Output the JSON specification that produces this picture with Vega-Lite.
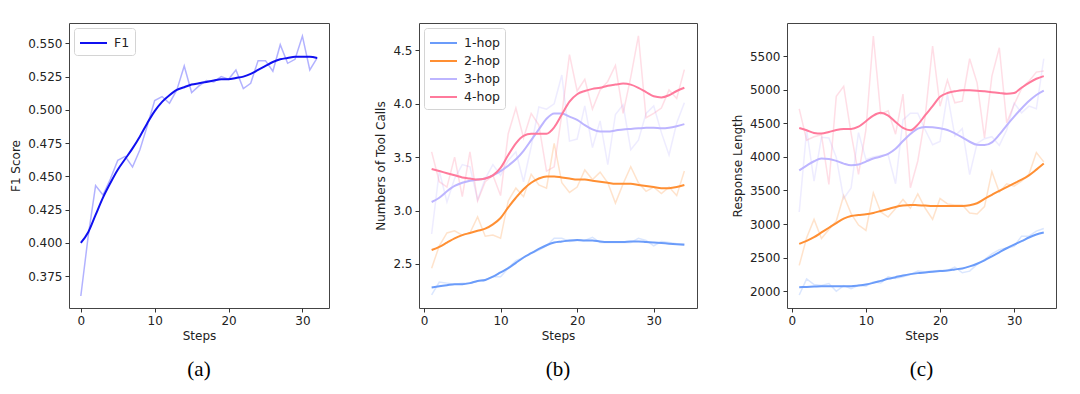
{
  "$schema": "https://vega.github.io/schema/vega-lite/v6.json",
  "padding": {"left": 9, "top": 22, "right": 0, "bottom": 0},
  "background": "white",
  "bounds": "flush",
  "spacing": 90,
  "config": {
    "view": {"stroke": "#444", "strokeWidth": 1},
    "axis": {"grid": false, "domain": false, "labelFont": "DejaVu Sans", "labelFontSize": 12, "labelColor": "#222", "titleFont": "DejaVu Sans", "titleFontSize": 12, "titleFontWeight": "normal", "titleColor": "#222", "tickColor": "#333", "tickSize": 4, "labelPadding": 3},
    "axisY": {"titlePadding": 5},
    "axisX": {"titlePadding": 4},
    "legend": {"title": null, "orient": "top-left", "offset": 5, "symbolType": "M-1,0H2", "symbolSize": 324, "symbolStrokeWidth": 2, "labelFont": "DejaVu Sans", "labelFontSize": 12.5, "labelColor": "#222", "strokeColor": "#d4d4d4", "fillColor": "rgba(255,255,255,0.85)", "padding": 5, "cornerRadius": 3, "rowPadding": 1, "labelOffset": 15},
    "title": {"font": "Liberation Serif", "fontSize": 21, "fontWeight": "normal", "color": "#000", "orient": "bottom", "anchor": "middle", "offset": 18}
  },
  "datasets": {
    "f1": [
      {"step": 0, "series": "F1", "raw": 0.360, "smooth": 0.400},
      {"step": 1, "series": "F1", "raw": 0.405, "smooth": 0.408},
      {"step": 2, "series": "F1", "raw": 0.443, "smooth": 0.421},
      {"step": 3, "series": "F1", "raw": 0.436, "smooth": 0.434},
      {"step": 4, "series": "F1", "raw": 0.448, "smooth": 0.445},
      {"step": 5, "series": "F1", "raw": 0.462, "smooth": 0.455},
      {"step": 6, "series": "F1", "raw": 0.465, "smooth": 0.463},
      {"step": 7, "series": "F1", "raw": 0.457, "smooth": 0.471},
      {"step": 8, "series": "F1", "raw": 0.470, "smooth": 0.480},
      {"step": 9, "series": "F1", "raw": 0.488, "smooth": 0.490},
      {"step": 10, "series": "F1", "raw": 0.507, "smooth": 0.499},
      {"step": 11, "series": "F1", "raw": 0.510, "smooth": 0.506},
      {"step": 12, "series": "F1", "raw": 0.505, "smooth": 0.511},
      {"step": 13, "series": "F1", "raw": 0.515, "smooth": 0.515},
      {"step": 14, "series": "F1", "raw": 0.533, "smooth": 0.517},
      {"step": 15, "series": "F1", "raw": 0.513, "smooth": 0.519},
      {"step": 16, "series": "F1", "raw": 0.518, "smooth": 0.520},
      {"step": 17, "series": "F1", "raw": 0.522, "smooth": 0.521},
      {"step": 18, "series": "F1", "raw": 0.521, "smooth": 0.522},
      {"step": 19, "series": "F1", "raw": 0.525, "smooth": 0.523},
      {"step": 20, "series": "F1", "raw": 0.523, "smooth": 0.523},
      {"step": 21, "series": "F1", "raw": 0.530, "smooth": 0.524},
      {"step": 22, "series": "F1", "raw": 0.516, "smooth": 0.525},
      {"step": 23, "series": "F1", "raw": 0.520, "smooth": 0.527},
      {"step": 24, "series": "F1", "raw": 0.537, "smooth": 0.530},
      {"step": 25, "series": "F1", "raw": 0.537, "smooth": 0.533},
      {"step": 26, "series": "F1", "raw": 0.529, "smooth": 0.536},
      {"step": 27, "series": "F1", "raw": 0.549, "smooth": 0.538},
      {"step": 28, "series": "F1", "raw": 0.535, "smooth": 0.539},
      {"step": 29, "series": "F1", "raw": 0.538, "smooth": 0.540},
      {"step": 30, "series": "F1", "raw": 0.5555, "smooth": 0.540},
      {"step": 31, "series": "F1", "raw": 0.530, "smooth": 0.540},
      {"step": 32, "series": "F1", "raw": 0.539, "smooth": 0.539}
    ],
    "calls": [
      {"step": 1, "hop": "1-hop", "raw": 2.21, "smooth": 2.28},
      {"step": 2, "hop": "1-hop", "raw": 2.33, "smooth": 2.29},
      {"step": 3, "hop": "1-hop", "raw": 2.32, "smooth": 2.30},
      {"step": 4, "hop": "1-hop", "raw": 2.31, "smooth": 2.31},
      {"step": 5, "hop": "1-hop", "raw": 2.32, "smooth": 2.31},
      {"step": 6, "hop": "1-hop", "raw": 2.32, "smooth": 2.32},
      {"step": 7, "hop": "1-hop", "raw": 2.34, "smooth": 2.34},
      {"step": 8, "hop": "1-hop", "raw": 2.35, "smooth": 2.35},
      {"step": 9, "hop": "1-hop", "raw": 2.38, "smooth": 2.38},
      {"step": 10, "hop": "1-hop", "raw": 2.38, "smooth": 2.42},
      {"step": 11, "hop": "1-hop", "raw": 2.46, "smooth": 2.46},
      {"step": 12, "hop": "1-hop", "raw": 2.53, "smooth": 2.51},
      {"step": 13, "hop": "1-hop", "raw": 2.56, "smooth": 2.56},
      {"step": 14, "hop": "1-hop", "raw": 2.60, "smooth": 2.60},
      {"step": 15, "hop": "1-hop", "raw": 2.63, "smooth": 2.64},
      {"step": 16, "hop": "1-hop", "raw": 2.67, "smooth": 2.675},
      {"step": 17, "hop": "1-hop", "raw": 2.74, "smooth": 2.70},
      {"step": 18, "hop": "1-hop", "raw": 2.74, "smooth": 2.71},
      {"step": 19, "hop": "1-hop", "raw": 2.71, "smooth": 2.72},
      {"step": 20, "hop": "1-hop", "raw": 2.72, "smooth": 2.725},
      {"step": 21, "hop": "1-hop", "raw": 2.72, "smooth": 2.72},
      {"step": 22, "hop": "1-hop", "raw": 2.75, "smooth": 2.72},
      {"step": 23, "hop": "1-hop", "raw": 2.70, "smooth": 2.71},
      {"step": 24, "hop": "1-hop", "raw": 2.70, "smooth": 2.705},
      {"step": 25, "hop": "1-hop", "raw": 2.70, "smooth": 2.705},
      {"step": 26, "hop": "1-hop", "raw": 2.70, "smooth": 2.705},
      {"step": 27, "hop": "1-hop", "raw": 2.70, "smooth": 2.71},
      {"step": 28, "hop": "1-hop", "raw": 2.74, "smooth": 2.71},
      {"step": 29, "hop": "1-hop", "raw": 2.72, "smooth": 2.705},
      {"step": 30, "hop": "1-hop", "raw": 2.67, "smooth": 2.70},
      {"step": 31, "hop": "1-hop", "raw": 2.71, "smooth": 2.695},
      {"step": 32, "hop": "1-hop", "raw": 2.70, "smooth": 2.69},
      {"step": 33, "hop": "1-hop", "raw": 2.69, "smooth": 2.685},
      {"step": 34, "hop": "1-hop", "raw": 2.69, "smooth": 2.68},
      {"step": 1, "hop": "2-hop", "raw": 2.46, "smooth": 2.63},
      {"step": 2, "hop": "2-hop", "raw": 2.67, "smooth": 2.66},
      {"step": 3, "hop": "2-hop", "raw": 2.79, "smooth": 2.70},
      {"step": 4, "hop": "2-hop", "raw": 2.81, "smooth": 2.74},
      {"step": 5, "hop": "2-hop", "raw": 2.77, "smooth": 2.77},
      {"step": 6, "hop": "2-hop", "raw": 2.79, "smooth": 2.79},
      {"step": 7, "hop": "2-hop", "raw": 2.94, "smooth": 2.81},
      {"step": 8, "hop": "2-hop", "raw": 2.76, "smooth": 2.83},
      {"step": 9, "hop": "2-hop", "raw": 2.77, "smooth": 2.87},
      {"step": 10, "hop": "2-hop", "raw": 2.74, "smooth": 2.93},
      {"step": 11, "hop": "2-hop", "raw": 3.09, "smooth": 3.03},
      {"step": 12, "hop": "2-hop", "raw": 3.21, "smooth": 3.12},
      {"step": 13, "hop": "2-hop", "raw": 3.13, "smooth": 3.20},
      {"step": 14, "hop": "2-hop", "raw": 3.34, "smooth": 3.26},
      {"step": 15, "hop": "2-hop", "raw": 3.24, "smooth": 3.30},
      {"step": 16, "hop": "2-hop", "raw": 3.21, "smooth": 3.32},
      {"step": 17, "hop": "2-hop", "raw": 3.63, "smooth": 3.32},
      {"step": 18, "hop": "2-hop", "raw": 3.26, "smooth": 3.31},
      {"step": 19, "hop": "2-hop", "raw": 3.17, "smooth": 3.30},
      {"step": 20, "hop": "2-hop", "raw": 3.22, "smooth": 3.29},
      {"step": 21, "hop": "2-hop", "raw": 3.38, "smooth": 3.29},
      {"step": 22, "hop": "2-hop", "raw": 3.29, "smooth": 3.28},
      {"step": 23, "hop": "2-hop", "raw": 3.36, "smooth": 3.27},
      {"step": 24, "hop": "2-hop", "raw": 3.26, "smooth": 3.26},
      {"step": 25, "hop": "2-hop", "raw": 3.07, "smooth": 3.25},
      {"step": 26, "hop": "2-hop", "raw": 3.25, "smooth": 3.25},
      {"step": 27, "hop": "2-hop", "raw": 3.41, "smooth": 3.25},
      {"step": 28, "hop": "2-hop", "raw": 3.26, "smooth": 3.24},
      {"step": 29, "hop": "2-hop", "raw": 3.18, "smooth": 3.23},
      {"step": 30, "hop": "2-hop", "raw": 3.22, "smooth": 3.22},
      {"step": 31, "hop": "2-hop", "raw": 3.16, "smooth": 3.21},
      {"step": 32, "hop": "2-hop", "raw": 3.22, "smooth": 3.21},
      {"step": 33, "hop": "2-hop", "raw": 3.14, "smooth": 3.22},
      {"step": 34, "hop": "2-hop", "raw": 3.37, "smooth": 3.24},
      {"step": 1, "hop": "3-hop", "raw": 2.78, "smooth": 3.08},
      {"step": 2, "hop": "3-hop", "raw": 3.37, "smooth": 3.12},
      {"step": 3, "hop": "3-hop", "raw": 3.08, "smooth": 3.18},
      {"step": 4, "hop": "3-hop", "raw": 3.30, "smooth": 3.23},
      {"step": 5, "hop": "3-hop", "raw": 3.43, "smooth": 3.26},
      {"step": 6, "hop": "3-hop", "raw": 3.41, "smooth": 3.28},
      {"step": 7, "hop": "3-hop", "raw": 3.10, "smooth": 3.29},
      {"step": 8, "hop": "3-hop", "raw": 3.30, "smooth": 3.30},
      {"step": 9, "hop": "3-hop", "raw": 3.43, "smooth": 3.33},
      {"step": 10, "hop": "3-hop", "raw": 3.33, "smooth": 3.37},
      {"step": 11, "hop": "3-hop", "raw": 3.47, "smooth": 3.42},
      {"step": 12, "hop": "3-hop", "raw": 3.55, "smooth": 3.48},
      {"step": 13, "hop": "3-hop", "raw": 3.27, "smooth": 3.56},
      {"step": 14, "hop": "3-hop", "raw": 3.60, "smooth": 3.66},
      {"step": 15, "hop": "3-hop", "raw": 3.97, "smooth": 3.76},
      {"step": 16, "hop": "3-hop", "raw": 3.95, "smooth": 3.86},
      {"step": 17, "hop": "3-hop", "raw": 4.00, "smooth": 3.91},
      {"step": 18, "hop": "3-hop", "raw": 4.27, "smooth": 3.91},
      {"step": 19, "hop": "3-hop", "raw": 3.65, "smooth": 3.88},
      {"step": 20, "hop": "3-hop", "raw": 3.67, "smooth": 3.85},
      {"step": 21, "hop": "3-hop", "raw": 3.98, "smooth": 3.80},
      {"step": 22, "hop": "3-hop", "raw": 3.59, "smooth": 3.76},
      {"step": 23, "hop": "3-hop", "raw": 3.84, "smooth": 3.74},
      {"step": 24, "hop": "3-hop", "raw": 3.43, "smooth": 3.74},
      {"step": 25, "hop": "3-hop", "raw": 3.90, "smooth": 3.75},
      {"step": 26, "hop": "3-hop", "raw": 3.99, "smooth": 3.76},
      {"step": 27, "hop": "3-hop", "raw": 3.57, "smooth": 3.765},
      {"step": 28, "hop": "3-hop", "raw": 3.66, "smooth": 3.77},
      {"step": 29, "hop": "3-hop", "raw": 3.91, "smooth": 3.775},
      {"step": 30, "hop": "3-hop", "raw": 3.98, "smooth": 3.775},
      {"step": 31, "hop": "3-hop", "raw": 3.73, "smooth": 3.77},
      {"step": 32, "hop": "3-hop", "raw": 3.52, "smooth": 3.775},
      {"step": 33, "hop": "3-hop", "raw": 3.82, "smooth": 3.79},
      {"step": 34, "hop": "3-hop", "raw": 4.01, "smooth": 3.81},
      {"step": 1, "hop": "4-hop", "raw": 3.55, "smooth": 3.39},
      {"step": 2, "hop": "4-hop", "raw": 3.27, "smooth": 3.37},
      {"step": 3, "hop": "4-hop", "raw": 3.22, "smooth": 3.35},
      {"step": 4, "hop": "4-hop", "raw": 3.50, "smooth": 3.33},
      {"step": 5, "hop": "4-hop", "raw": 3.13, "smooth": 3.31},
      {"step": 6, "hop": "4-hop", "raw": 3.55, "smooth": 3.30},
      {"step": 7, "hop": "4-hop", "raw": 3.09, "smooth": 3.29},
      {"step": 8, "hop": "4-hop", "raw": 3.27, "smooth": 3.30},
      {"step": 9, "hop": "4-hop", "raw": 3.33, "smooth": 3.33},
      {"step": 10, "hop": "4-hop", "raw": 3.14, "smooth": 3.40},
      {"step": 11, "hop": "4-hop", "raw": 3.72, "smooth": 3.52},
      {"step": 12, "hop": "4-hop", "raw": 3.96, "smooth": 3.63},
      {"step": 13, "hop": "4-hop", "raw": 3.68, "smooth": 3.70},
      {"step": 14, "hop": "4-hop", "raw": 3.91, "smooth": 3.72},
      {"step": 15, "hop": "4-hop", "raw": 3.80, "smooth": 3.72},
      {"step": 16, "hop": "4-hop", "raw": 3.37, "smooth": 3.72},
      {"step": 17, "hop": "4-hop", "raw": 3.41, "smooth": 3.78},
      {"step": 18, "hop": "4-hop", "raw": 3.90, "smooth": 3.90},
      {"step": 19, "hop": "4-hop", "raw": 4.46, "smooth": 4.02},
      {"step": 20, "hop": "4-hop", "raw": 4.12, "smooth": 4.09},
      {"step": 21, "hop": "4-hop", "raw": 4.23, "smooth": 4.12},
      {"step": 22, "hop": "4-hop", "raw": 3.95, "smooth": 4.14},
      {"step": 23, "hop": "4-hop", "raw": 4.13, "smooth": 4.15},
      {"step": 24, "hop": "4-hop", "raw": 4.21, "smooth": 4.17},
      {"step": 25, "hop": "4-hop", "raw": 4.36, "smooth": 4.18},
      {"step": 26, "hop": "4-hop", "raw": 3.91, "smooth": 4.19},
      {"step": 27, "hop": "4-hop", "raw": 4.25, "smooth": 4.18},
      {"step": 28, "hop": "4-hop", "raw": 4.636, "smooth": 4.15},
      {"step": 29, "hop": "4-hop", "raw": 3.87, "smooth": 4.11},
      {"step": 30, "hop": "4-hop", "raw": 3.91, "smooth": 4.07},
      {"step": 31, "hop": "4-hop", "raw": 3.96, "smooth": 4.06},
      {"step": 32, "hop": "4-hop", "raw": 4.13, "smooth": 4.08},
      {"step": 33, "hop": "4-hop", "raw": 4.05, "smooth": 4.12},
      {"step": 34, "hop": "4-hop", "raw": 4.32, "smooth": 4.15}
    ],
    "length": [
      {"step": 1, "hop": "1-hop", "raw": 1944, "smooth": 2060},
      {"step": 2, "hop": "1-hop", "raw": 2185, "smooth": 2065},
      {"step": 3, "hop": "1-hop", "raw": 2100, "smooth": 2070},
      {"step": 4, "hop": "1-hop", "raw": 2085, "smooth": 2075},
      {"step": 5, "hop": "1-hop", "raw": 2115, "smooth": 2075},
      {"step": 6, "hop": "1-hop", "raw": 2000, "smooth": 2075},
      {"step": 7, "hop": "1-hop", "raw": 2085, "smooth": 2075},
      {"step": 8, "hop": "1-hop", "raw": 2040, "smooth": 2075},
      {"step": 9, "hop": "1-hop", "raw": 2090, "smooth": 2085},
      {"step": 10, "hop": "1-hop", "raw": 2075, "smooth": 2100},
      {"step": 11, "hop": "1-hop", "raw": 2140, "smooth": 2125},
      {"step": 12, "hop": "1-hop", "raw": 2125, "smooth": 2155},
      {"step": 13, "hop": "1-hop", "raw": 2215, "smooth": 2185},
      {"step": 14, "hop": "1-hop", "raw": 2190, "smooth": 2210},
      {"step": 15, "hop": "1-hop", "raw": 2215, "smooth": 2235},
      {"step": 16, "hop": "1-hop", "raw": 2250, "smooth": 2255},
      {"step": 17, "hop": "1-hop", "raw": 2300, "smooth": 2270},
      {"step": 18, "hop": "1-hop", "raw": 2290, "smooth": 2280},
      {"step": 19, "hop": "1-hop", "raw": 2300, "smooth": 2290},
      {"step": 20, "hop": "1-hop", "raw": 2310, "smooth": 2300},
      {"step": 21, "hop": "1-hop", "raw": 2310, "smooth": 2310},
      {"step": 22, "hop": "1-hop", "raw": 2360, "smooth": 2325},
      {"step": 23, "hop": "1-hop", "raw": 2275, "smooth": 2340},
      {"step": 24, "hop": "1-hop", "raw": 2300, "smooth": 2370},
      {"step": 25, "hop": "1-hop", "raw": 2400, "smooth": 2410},
      {"step": 26, "hop": "1-hop", "raw": 2470, "smooth": 2460},
      {"step": 27, "hop": "1-hop", "raw": 2555, "smooth": 2520},
      {"step": 28, "hop": "1-hop", "raw": 2620, "smooth": 2580},
      {"step": 29, "hop": "1-hop", "raw": 2645, "smooth": 2640},
      {"step": 30, "hop": "1-hop", "raw": 2670, "smooth": 2695},
      {"step": 31, "hop": "1-hop", "raw": 2820, "smooth": 2745},
      {"step": 32, "hop": "1-hop", "raw": 2820, "smooth": 2800},
      {"step": 33, "hop": "1-hop", "raw": 2895, "smooth": 2845},
      {"step": 34, "hop": "1-hop", "raw": 2935, "smooth": 2875},
      {"step": 1, "hop": "2-hop", "raw": 2385, "smooth": 2705},
      {"step": 2, "hop": "2-hop", "raw": 2795, "smooth": 2750},
      {"step": 3, "hop": "2-hop", "raw": 3070, "smooth": 2805},
      {"step": 4, "hop": "2-hop", "raw": 2785, "smooth": 2875},
      {"step": 5, "hop": "2-hop", "raw": 2920, "smooth": 2945},
      {"step": 6, "hop": "2-hop", "raw": 3045, "smooth": 3015},
      {"step": 7, "hop": "2-hop", "raw": 3425, "smooth": 3080},
      {"step": 8, "hop": "2-hop", "raw": 3155, "smooth": 3120},
      {"step": 9, "hop": "2-hop", "raw": 2985, "smooth": 3135},
      {"step": 10, "hop": "2-hop", "raw": 2905, "smooth": 3145},
      {"step": 11, "hop": "2-hop", "raw": 3465, "smooth": 3165},
      {"step": 12, "hop": "2-hop", "raw": 3180, "smooth": 3195},
      {"step": 13, "hop": "2-hop", "raw": 3105, "smooth": 3225},
      {"step": 14, "hop": "2-hop", "raw": 3230, "smooth": 3255},
      {"step": 15, "hop": "2-hop", "raw": 3365, "smooth": 3275},
      {"step": 16, "hop": "2-hop", "raw": 3235, "smooth": 3285},
      {"step": 17, "hop": "2-hop", "raw": 3450, "smooth": 3280},
      {"step": 18, "hop": "2-hop", "raw": 3235, "smooth": 3275},
      {"step": 19, "hop": "2-hop", "raw": 3070, "smooth": 3270},
      {"step": 20, "hop": "2-hop", "raw": 3380, "smooth": 3270},
      {"step": 21, "hop": "2-hop", "raw": 3300, "smooth": 3270},
      {"step": 22, "hop": "2-hop", "raw": 3285, "smooth": 3270},
      {"step": 23, "hop": "2-hop", "raw": 3285, "smooth": 3270},
      {"step": 24, "hop": "2-hop", "raw": 3165, "smooth": 3280},
      {"step": 25, "hop": "2-hop", "raw": 3150, "smooth": 3310},
      {"step": 26, "hop": "2-hop", "raw": 3260, "smooth": 3375},
      {"step": 27, "hop": "2-hop", "raw": 3780, "smooth": 3435},
      {"step": 28, "hop": "2-hop", "raw": 3475, "smooth": 3495},
      {"step": 29, "hop": "2-hop", "raw": 3600, "smooth": 3550},
      {"step": 30, "hop": "2-hop", "raw": 3565, "smooth": 3605},
      {"step": 31, "hop": "2-hop", "raw": 3640, "smooth": 3660},
      {"step": 32, "hop": "2-hop", "raw": 3740, "smooth": 3725},
      {"step": 33, "hop": "2-hop", "raw": 4065, "smooth": 3810},
      {"step": 34, "hop": "2-hop", "raw": 3925, "smooth": 3900},
      {"step": 1, "hop": "3-hop", "raw": 3180, "smooth": 3800},
      {"step": 2, "hop": "3-hop", "raw": 4400, "smooth": 3870},
      {"step": 3, "hop": "3-hop", "raw": 3640, "smooth": 3935},
      {"step": 4, "hop": "3-hop", "raw": 4290, "smooth": 3975},
      {"step": 5, "hop": "3-hop", "raw": 4280, "smooth": 3970},
      {"step": 6, "hop": "3-hop", "raw": 3990, "smooth": 3940},
      {"step": 7, "hop": "3-hop", "raw": 3380, "smooth": 3900},
      {"step": 8, "hop": "3-hop", "raw": 3536, "smooth": 3875},
      {"step": 9, "hop": "3-hop", "raw": 4360, "smooth": 3885},
      {"step": 10, "hop": "3-hop", "raw": 3960, "smooth": 3930},
      {"step": 11, "hop": "3-hop", "raw": 4000, "smooth": 3975},
      {"step": 12, "hop": "3-hop", "raw": 4020, "smooth": 4005},
      {"step": 13, "hop": "3-hop", "raw": 4030, "smooth": 4045},
      {"step": 14, "hop": "3-hop", "raw": 3600, "smooth": 4120},
      {"step": 15, "hop": "3-hop", "raw": 4550, "smooth": 4235},
      {"step": 16, "hop": "3-hop", "raw": 4650, "smooth": 4340},
      {"step": 17, "hop": "3-hop", "raw": 4650, "smooth": 4420},
      {"step": 18, "hop": "3-hop", "raw": 4400, "smooth": 4445},
      {"step": 19, "hop": "3-hop", "raw": 4180, "smooth": 4440},
      {"step": 20, "hop": "3-hop", "raw": 4230, "smooth": 4425},
      {"step": 21, "hop": "3-hop", "raw": 4930, "smooth": 4400},
      {"step": 22, "hop": "3-hop", "raw": 4310, "smooth": 4350},
      {"step": 23, "hop": "3-hop", "raw": 4420, "smooth": 4290},
      {"step": 24, "hop": "3-hop", "raw": 3735, "smooth": 4225},
      {"step": 25, "hop": "3-hop", "raw": 4200, "smooth": 4180},
      {"step": 26, "hop": "3-hop", "raw": 4270, "smooth": 4175},
      {"step": 27, "hop": "3-hop", "raw": 4300, "smooth": 4215},
      {"step": 28, "hop": "3-hop", "raw": 4170, "smooth": 4330},
      {"step": 29, "hop": "3-hop", "raw": 4400, "smooth": 4470},
      {"step": 30, "hop": "3-hop", "raw": 4800, "smooth": 4600},
      {"step": 31, "hop": "3-hop", "raw": 4655, "smooth": 4720},
      {"step": 32, "hop": "3-hop", "raw": 4755, "smooth": 4830},
      {"step": 33, "hop": "3-hop", "raw": 4715, "smooth": 4920},
      {"step": 34, "hop": "3-hop", "raw": 5460, "smooth": 4985},
      {"step": 1, "hop": "4-hop", "raw": 4714, "smooth": 4430},
      {"step": 2, "hop": "4-hop", "raw": 4247, "smooth": 4396},
      {"step": 3, "hop": "4-hop", "raw": 4300, "smooth": 4356},
      {"step": 4, "hop": "4-hop", "raw": 4330, "smooth": 4346},
      {"step": 5, "hop": "4-hop", "raw": 3590, "smooth": 4370},
      {"step": 6, "hop": "4-hop", "raw": 4900, "smooth": 4400},
      {"step": 7, "hop": "4-hop", "raw": 5050, "smooth": 4415},
      {"step": 8, "hop": "4-hop", "raw": 4350, "smooth": 4416},
      {"step": 9, "hop": "4-hop", "raw": 3740, "smooth": 4450},
      {"step": 10, "hop": "4-hop", "raw": 4400, "smooth": 4530},
      {"step": 11, "hop": "4-hop", "raw": 5799, "smooth": 4615},
      {"step": 12, "hop": "4-hop", "raw": 4635, "smooth": 4655},
      {"step": 13, "hop": "4-hop", "raw": 4685, "smooth": 4615},
      {"step": 14, "hop": "4-hop", "raw": 4337, "smooth": 4520},
      {"step": 15, "hop": "4-hop", "raw": 4933, "smooth": 4430},
      {"step": 16, "hop": "4-hop", "raw": 3541, "smooth": 4395},
      {"step": 17, "hop": "4-hop", "raw": 3939, "smooth": 4480},
      {"step": 18, "hop": "4-hop", "raw": 4600, "smooth": 4620},
      {"step": 19, "hop": "4-hop", "raw": 5650, "smooth": 4754},
      {"step": 20, "hop": "4-hop", "raw": 4754, "smooth": 4893},
      {"step": 21, "hop": "4-hop", "raw": 5142, "smooth": 4950},
      {"step": 22, "hop": "4-hop", "raw": 4804, "smooth": 4975},
      {"step": 23, "hop": "4-hop", "raw": 4829, "smooth": 4990},
      {"step": 24, "hop": "4-hop", "raw": 5460, "smooth": 4990},
      {"step": 25, "hop": "4-hop", "raw": 5102, "smooth": 4985},
      {"step": 26, "hop": "4-hop", "raw": 4282, "smooth": 4975},
      {"step": 27, "hop": "4-hop", "raw": 5202, "smooth": 4963},
      {"step": 28, "hop": "4-hop", "raw": 5624, "smooth": 4950},
      {"step": 29, "hop": "4-hop", "raw": 4506, "smooth": 4938},
      {"step": 30, "hop": "4-hop", "raw": 4779, "smooth": 4950},
      {"step": 31, "hop": "4-hop", "raw": 5013, "smooth": 5028},
      {"step": 32, "hop": "4-hop", "raw": 5127, "smooth": 5102},
      {"step": 33, "hop": "4-hop", "raw": 5261, "smooth": 5162},
      {"step": 34, "hop": "4-hop", "raw": 5276, "smooth": 5202}
    ]
  },
  "hconcat": [
    {
      "width": 260,
      "height": 285,
      "title": {"text": "(a)"},
      "data": {"name": "f1"},
      "layer": [
        {
          "mark": {"type": "line", "color": "#0000ff", "opacity": 0.3, "strokeWidth": 1.5},
          "encoding": {
            "x": {"field": "step", "type": "quantitative", "scale": {"domain": [-1.6, 33.6], "nice": false, "zero": false}, "axis": {"values": [0, 10, 20, 30], "title": "Steps"}},
            "y": {"field": "raw", "type": "quantitative", "scale": {"domain": [0.351, 0.5653], "nice": false, "zero": false}, "axis": {"values": [0.375, 0.4, 0.425, 0.45, 0.475, 0.5, 0.525, 0.55], "format": ".3f", "title": "F1 Score"}}
          }
        },
        {
          "mark": {"type": "line", "strokeWidth": 2, "interpolate": "monotone"},
          "encoding": {
            "x": {"field": "step", "type": "quantitative"},
            "y": {"field": "smooth", "type": "quantitative"},
            "color": {"field": "series", "type": "nominal", "scale": {"domain": ["F1"], "range": ["#1010f0"]}}
          }
        }
      ]
    },
    {
      "width": 278,
      "height": 285,
      "title": {"text": "(b)"},
      "data": {"name": "calls"},
      "layer": [
        {
          "mark": {"type": "line", "opacity": 0.25, "strokeWidth": 1.5},
          "encoding": {
            "x": {"field": "step", "type": "quantitative", "scale": {"domain": [-0.65, 35.65], "nice": false, "zero": false}, "axis": {"values": [0, 10, 20, 30], "title": "Steps"}},
            "y": {"field": "raw", "type": "quantitative", "scale": {"domain": [2.087, 4.757], "nice": false, "zero": false}, "axis": {"values": [2.5, 3.0, 3.5, 4.0, 4.5], "format": ".1f", "title": "Numbers of Tool Calls"}},
            "stroke": {"field": "hop", "type": "nominal", "scale": {"domain": ["1-hop", "2-hop", "3-hop", "4-hop"], "range": ["#6b9cfa", "#ff8f33", "#bdb5ff", "#ff7a9c"]}, "legend": null}
          }
        },
        {
          "mark": {"type": "line", "strokeWidth": 2, "interpolate": "monotone"},
          "encoding": {
            "x": {"field": "step", "type": "quantitative"},
            "y": {"field": "smooth", "type": "quantitative"},
            "color": {"field": "hop", "type": "nominal", "scale": {"domain": ["1-hop", "2-hop", "3-hop", "4-hop"], "range": ["#6b9cfa", "#ff8f33", "#bdb5ff", "#ff7a9c"]}}
          }
        }
      ],
      "resolve": {"scale": {"color": "independent", "stroke": "independent"}}
    },
    {
      "width": 269,
      "height": 285,
      "title": {"text": "(c)"},
      "data": {"name": "length"},
      "layer": [
        {
          "mark": {"type": "line", "opacity": 0.25, "strokeWidth": 1.5},
          "encoding": {
            "x": {"field": "step", "type": "quantitative", "scale": {"domain": [-0.65, 35.65], "nice": false, "zero": false}, "axis": {"values": [0, 10, 20, 30], "title": "Steps"}},
            "y": {"field": "raw", "type": "quantitative", "scale": {"domain": [1751, 5992], "nice": false, "zero": false}, "axis": {"values": [2000, 2500, 3000, 3500, 4000, 4500, 5000, 5500], "format": "d", "title": "Response Length"}},
            "stroke": {"field": "hop", "type": "nominal", "scale": {"domain": ["1-hop", "2-hop", "3-hop", "4-hop"], "range": ["#6b9cfa", "#ff8f33", "#bdb5ff", "#ff7a9c"]}, "legend": null}
          }
        },
        {
          "mark": {"type": "line", "strokeWidth": 2, "interpolate": "monotone"},
          "encoding": {
            "x": {"field": "step", "type": "quantitative"},
            "y": {"field": "smooth", "type": "quantitative"},
            "color": {"field": "hop", "type": "nominal", "scale": {"domain": ["1-hop", "2-hop", "3-hop", "4-hop"], "range": ["#6b9cfa", "#ff8f33", "#bdb5ff", "#ff7a9c"]}}
          }
        }
      ]
    }
  ],
  "resolve": {"scale": {"color": "independent", "stroke": "independent", "x": "independent", "y": "independent"}}
}
